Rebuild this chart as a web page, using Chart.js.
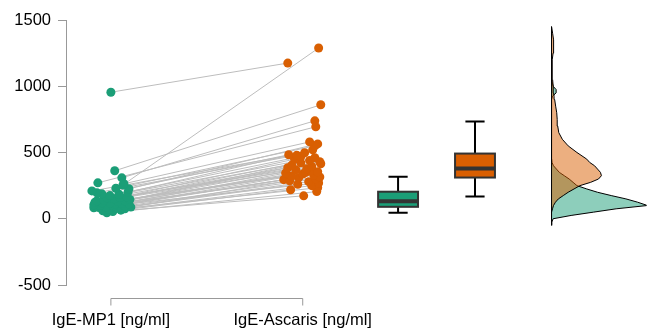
<!DOCTYPE html>
<html>
<head>
<meta charset="utf-8">
<script src="https://cdn.jsdelivr.net/npm/chart.js@4.4.1/dist/chart.umd.min.js"></script>
<style>
  html, body { margin: 0; padding: 0; background: #fff; }
  #wrap { width: 651px; height: 329px; position: relative; }
</style>
</head>
<body>
<div id="wrap"><canvas id="myChart"></canvas></div>
<script>
const groups = ['IgE-MP1 [ng/ml]', 'IgE-Ascaris [ng/ml]'];
const yTicks = [-500, 0, 500, 1000, 1500];

// paired measurements, one entry per subject
const mp1 = [45, 55, 60, 65, 70, 75, 80, 83, 85, 88, 90, 95, 98, 100, 105, 110, 112, 115, 118, 121, 125, 130,
  135, 136, 140, 145, 151, 158, 160, 166, 175, 185, 188, 196, 200, 210, 226, 230, 264, 271, 309, 362, 255, 955];
const ascaris = [205, 173, 234, 219, 260, 250, 280, 270, 295, 287, 310, 302, 322, 315, 338, 330, 350, 345, 362, 355, 378, 370,
  395, 385, 415, 405, 430, 422, 450, 440, 470, 460, 483, 480, 520, 498, 565, 550, 580, 694, 739, 860, 1289, 1175];

// horizontal jitter of each point (in category units)
const mp1Jitter = [-0.021, 0.01, -0.042, 0.052, -0.01, 0.073, 0.031, -0.089, -0.063, 0.104, -0.026, 0.073, 0.016, -0.057,
  -0.089, 0.094, 0.021, 0.057, -0.005, -0.047, -0.083, 0.036, -0.073, 0.073, -0.036, 0.099, 0.016, -0.021, 0.047, 0.083,
  -0.005, 0.042, -0.047, -0.073, 0.089, -0.099, 0.094, 0.026, 0.068, -0.068, 0.057, 0.02, 0.063, 0];
const ascarisJitter = [0.073, 0.005, 0.078, -0.063, -0.026, 0.047, 0.031, 0.083, -0.099, -0.068, -0.021, 0.068, -0.057, 0.089,
  0, 0.057, 0.016, -0.089, 0.042, 0.078, 0.021, -0.036, 0.047, -0.078, 0.094, -0.057, 0.089, -0.01, -0.042, 0.036,
  -0.01, 0.063, -0.073, -0.031, 0.052, 0.01, 0.078, 0.063, 0.036, 0.068, 0.063, 0.094, 0.083, -0.078];

// boxplot summaries [MP1, Ascaris]
const boxLow = [45, 168];
const boxQ1 = [90, 311];
const boxMedian = [133, 379];
const boxQ3 = [204, 492];
const boxHigh = [317, 734];

// half-violin densities (relative, MP1 peak = 1)
const densityGrid = [-50, -25, 0, 25, 50, 75, 100, 125, 150, 175, 200, 225, 250, 275, 300, 325, 350, 375, 400, 425, 450,
  500, 550, 600, 650, 700, 750, 800, 850, 900, 925, 950, 975, 1000, 1050, 1100, 1150, 1200, 1250, 1300, 1350, 1400, 1450];
const mp1Density = [0, 0.003, 0.016, 0.2, 0.43, 0.66, 0.98, 0.88, 0.76, 0.61, 0.47, 0.36, 0.26, 0.22, 0.18, 0.13, 0.08, 0.05, 0.02, 0.005, 0.002,
  0.001, 0, 0, 0, 0, 0, 0, 0, 0.002, 0.01, 0.047, 0.047, 0.016, 0, 0, 0, 0, 0, 0, 0, 0, 0];
const ascarisDensity = [0, 0, 0, 0, 0, 0.01, 0.02, 0.04, 0.07, 0.12, 0.17, 0.23, 0.29, 0.4, 0.48, 0.51, 0.5, 0.47, 0.44, 0.39, 0.36,
  0.26, 0.17, 0.11, 0.074, 0.063, 0.058, 0.053, 0.042, 0.032, 0.026, 0.021, 0.018, 0.016, 0.011, 0.005, 0.005, 0.011, 0.016, 0.021, 0.021, 0.011, 0];

const green = '#1b9e77';
const orange = '#d95f02';
const font = '"Liberation Sans", Arial, sans-serif';

const boxPos = [2.497, 2.898];
const boxHalf = 0.104;
const capHalf = 0.05;
const violinBase = 3.297;
const violinScale = 0.51;

const pairLines = mp1.map((v, i) => ({
  data: [{ x: 1 + mp1Jitter[i], y: v }, { x: 2 + ascarisJitter[i], y: ascaris[i] }],
  showLine: true,
  borderColor: '#bdbdbd',
  borderWidth: 1,
  pointRadius: 0,
  order: 10,
}));

function violin(dens, color, order) {
  return {
    data: densityGrid.map((v, i) => ({ x: violinBase + dens[i] * violinScale, y: v })),
    showLine: true,
    fill: 'shape',
    backgroundColor: color,
    borderColor: '#000',
    borderWidth: 1,
    pointRadius: 0,
    tension: 0,
    order: order,
  };
}

const boxPlugin = {
  id: 'boxes',
  afterDatasetsDraw(chart) {
    const { ctx, scales: { x, y } } = chart;
    [green, orange].forEach((color, i) => {
      const cx = x.getPixelForValue(boxPos[i]);
      const l = x.getPixelForValue(boxPos[i] - boxHalf);
      const r = x.getPixelForValue(boxPos[i] + boxHalf);
      const cl = x.getPixelForValue(boxPos[i] - capHalf);
      const cr = x.getPixelForValue(boxPos[i] + capHalf);
      ctx.save();
      ctx.strokeStyle = '#000';
      ctx.lineWidth = 2;
      ctx.beginPath();
      ctx.moveTo(cx, y.getPixelForValue(boxLow[i]));
      ctx.lineTo(cx, y.getPixelForValue(boxHigh[i]));
      ctx.moveTo(cl, y.getPixelForValue(boxLow[i]));
      ctx.lineTo(cr, y.getPixelForValue(boxLow[i]));
      ctx.moveTo(cl, y.getPixelForValue(boxHigh[i]));
      ctx.lineTo(cr, y.getPixelForValue(boxHigh[i]));
      ctx.stroke();
      const top = y.getPixelForValue(boxQ3[i]);
      const bot = y.getPixelForValue(boxQ1[i]);
      ctx.fillStyle = color;
      ctx.fillRect(l, top, r - l, bot - top);
      ctx.strokeStyle = '#333';
      ctx.strokeRect(l, top, r - l, bot - top);
      ctx.lineWidth = 4;
      ctx.beginPath();
      ctx.moveTo(l, y.getPixelForValue(boxMedian[i]));
      ctx.lineTo(r, y.getPixelForValue(boxMedian[i]));
      ctx.stroke();
      ctx.restore();
    });
  },
  afterDraw(chart) {
    const { ctx, chartArea, scales: { x } } = chart;
    const a = x.getPixelForValue(1);
    const b = x.getPixelForValue(2);
    const yy = Math.round(chartArea.bottom + 13) + 0.5;
    ctx.save();
    ctx.strokeStyle = '#999';
    ctx.lineWidth = 1;
    ctx.beginPath();
    ctx.moveTo(a, yy + 7);
    ctx.lineTo(a, yy);
    ctx.lineTo(b, yy);
    ctx.lineTo(b, yy + 7);
    ctx.stroke();
    ctx.fillStyle = '#000';
    ctx.font = '16.5px ' + font;
    ctx.textAlign = 'center';
    ctx.textBaseline = 'middle';
    ctx.fillText(groups[0], a, yy + 22);
    ctx.fillText(groups[1], b, yy + 22);
    ctx.restore();
  },
};

new Chart(document.getElementById('myChart'), {
  type: 'scatter',
  plugins: [boxPlugin],
  options: {
    responsive: true,
    maintainAspectRatio: false,
    animation: false,
    layout: { padding: { top: 20, bottom: 44, left: 0, right: 0 } },
    plugins: { legend: { display: false }, tooltip: { enabled: false } },
    scales: {
      x: { type: 'linear', min: 0.766, max: 3.792, display: false },
      y: {
        min: -500,
        max: 1500,
        afterBuildTicks: (s) => { s.ticks = yTicks.map((v) => ({ value: v })); },
        afterFit: (s) => { s.width = 66; },
        grid: { drawOnChartArea: false, tickLength: 8, color: '#999' },
        border: { color: '#999' },
        ticks: { color: '#000', padding: 7, font: { size: 16.5, family: font }, callback: (v) => String(v) },
      },
    },
  },
  data: {
    datasets: [
      { data: mp1.map((v, i) => ({ x: 1 + mp1Jitter[i], y: v })), backgroundColor: green, borderWidth: 0, pointRadius: 4.5, order: 0 },
      { data: ascaris.map((v, i) => ({ x: 2 + ascarisJitter[i], y: v })), backgroundColor: orange, borderWidth: 0, pointRadius: 4.5, order: 0 },
      { data: [{ x: violinBase, y: -40 }, { x: violinBase, y: 1450 }], showLine: true, borderColor: '#000', borderWidth: 1, pointRadius: 0, order: 1 },
      violin(ascarisDensity, 'rgba(217,95,2,0.5)', 2),
      violin(mp1Density, 'rgba(27,158,119,0.5)', 3),
      ...pairLines,
    ],
  },
});
</script>
</body>
</html>
